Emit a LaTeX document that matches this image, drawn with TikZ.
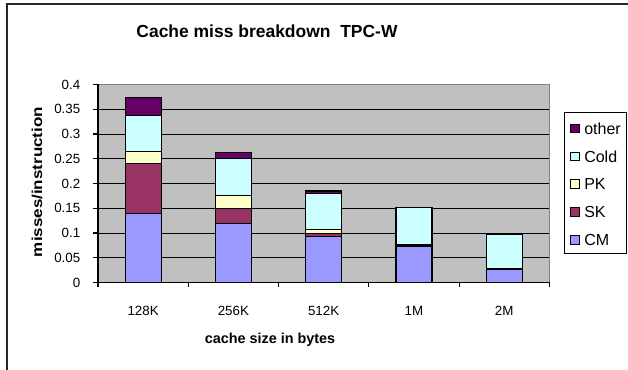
\documentclass[tikz,border=0pt]{standalone}
\usepackage{fontspec}
\setmainfont{Liberation Sans}
\definecolor{plotbg}{HTML}{C0C0C0}
\definecolor{cCM}{HTML}{9999FF}
\definecolor{cSK}{HTML}{993366}
\definecolor{cPK}{HTML}{FFFFCC}
\definecolor{cCold}{HTML}{CCFFFF}
\definecolor{cOther}{HTML}{660066}
\tikzset{
  segbox/.style={draw=black, line width=0.9pt},
  gridln/.style={draw=black, line width=0.7pt},
  ticklbl/.style={font=\fontsize{10}{12}\selectfont, inner sep=0pt},
  leglbl/.style={font=\fontsize{12}{14}\selectfont, inner sep=0pt},
  axtitle/.style={font=\fontsize{10.8}{13}\selectfont\bfseries, inner sep=0pt},
  legsq/.style={draw=black, line width=0.6pt, minimum size=6.5pt, inner sep=0pt},
}
\begin{document}
\begin{tikzpicture}[x=0.75pt, y=-0.75pt]
\useasboundingbox (0,0) rectangle (628,370);
% outer frame (right and bottom edges fall outside)
\draw[line width=1.6pt, draw=black!85] (7,372) -- (7,4) -- (632,4);
% title
\node[font=\fontsize{13.1}{15}\selectfont\bfseries, inner sep=0pt] (title) at (267,31) {Cache miss breakdown\ \ TPC-W};
% plot area
\fill[plotbg] (98,84.5) rectangle (549.5,282.5);
\foreach \v in {1,...,7}{
  \draw[gridln] (98,{282.5-\v*24.75}) -- (549.5,{282.5-\v*24.75});
}
\draw[draw=black!50, line width=0.9pt] (98,84.5) -- (549.5,84.5) -- (549.5,282.5);
% bars
\newcommand{\mybar}[6]{%
  \filldraw[segbox, fill=cCM] ({#1-18},282.5) rectangle ({#1+18},{282.5-#2*495});
  \filldraw[segbox, fill=cSK] ({#1-18},{282.5-#2*495}) rectangle ({#1+18},{282.5-#3*495});
  \filldraw[segbox, fill=cPK] ({#1-18},{282.5-#3*495}) rectangle ({#1+18},{282.5-#4*495});
  \filldraw[segbox, fill=cCold] ({#1-18},{282.5-#4*495}) rectangle ({#1+18},{282.5-#5*495});
  \filldraw[segbox, fill=cOther] ({#1-18},{282.5-#5*495}) rectangle ({#1+18},{282.5-#6*495});
}
\mybar{143.1}{0.140}{0.240}{0.265}{0.337}{0.373}
\mybar{233.4}{0.120}{0.150}{0.175}{0.251}{0.262}
\mybar{323.6}{0.093}{0.099}{0.107}{0.180}{0.185}
\mybar{413.9}{0.072}{0.075}{0.076}{0.151}{0.152}
\mybar{504.1}{0.026}{0.027}{0.0275}{0.097}{0.098}
% axes
\draw[line width=0.8pt] (98,84.5) -- (98,282.5) -- (549.5,282.5);
\foreach \v/\t in {0/0,1/0.05,2/0.1,3/0.15,4/0.2,5/0.25,6/0.3,7/0.35,8/0.4}{
  \draw[line width=0.8pt] (93,{282.5-\v*24.75}) -- (98,{282.5-\v*24.75});
  \node[ticklbl, anchor=east] (yl\v) at (80.5,{282.5-\v*24.75}) {\t};
}
\foreach \i in {0,...,5}{
  \draw[line width=0.8pt] ({98+\i*90.3},282.5) -- ({98+\i*90.3},287.5);
}
\foreach \i/\t in {0/128K,1/256K,2/512K,3/1M,4/2M}{
  \node[ticklbl] (xl\i) at ({143.1+\i*90.25},311) {\t};
}
\node[axtitle, rotate=90, xscale=1.18] (ytitle) at (37,182) {misses/instruction};
\node[axtitle] (xtitle) at (270,340) {cache size in bytes};
% legend
\draw[line width=0.8pt, fill=white] (564.5,112.5) rectangle (626.5,253.5);
\foreach \c/\t/\yy in {cOther/other/128.5, cCold/Cold/156.3, cPK/PK/184.2, cSK/SK/212.2, cCM/CM/240}{
  \node[legsq, fill=\c] (sq\t) at (575,\yy) {};
  \node[leglbl, anchor=west] (lg\t) at (584,\yy) {\t};
}
\end{tikzpicture}
\end{document}
